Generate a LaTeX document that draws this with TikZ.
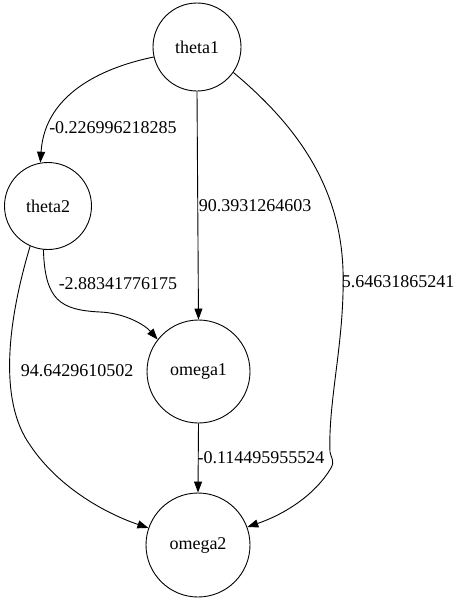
\documentclass[tikz,border=0pt]{standalone}
\usepackage{fontspec}
\setmainfont{Liberation Serif}
\usetikzlibrary{arrows.meta}
\begin{document}
\begin{tikzpicture}[x=1pt,y=-1pt,
  vnode/.style={draw,circle,line width=0.9pt,inner sep=0pt,font=\fontsize{18}{21}\selectfont},
  edge/.style={line width=0.9pt,-{Triangle[length=11pt,width=8pt]}},
  wlabel/.style={font=\fontsize{18}{21}\selectfont,inner sep=0pt}]
\useasboundingbox (0,0) rectangle (461,603);
% variables
\node[vnode,minimum size=88pt]  (theta1) at (197,47)    {theta1};
\node[vnode,minimum size=87pt]  (theta2) at (48,206)    {theta2};
\node[vnode,minimum size=103pt] (omega1) at (198.5,371.5) {omega1};
\node[vnode,minimum size=104pt] (omega2) at (198,545)   {omega2};
% weighted edges
\draw[edge] (theta1.193) .. controls (110,66) and (45,90) .. (theta2.100);
\draw[edge] (theta1.south) -- (omega1.north);
\draw[edge] (theta1.-35) .. controls (290,120) and (340,180) .. (343,270)
  .. controls (345,340) and (328,400) .. (330,452)
  .. controls (331,458) and (335,461) .. (331,468)
  .. controls (315,495) and (285,514) .. (omega2.20);
\draw[edge] (theta2.264) .. controls (45,300) and (60,310) .. (100,312)
  .. controls (125,313) and (145,325) .. (omega1.142);
\draw[edge] (theta2.246) .. controls (8,320) and (-2,400) .. (30,445)
  .. controls (60,490) and (110,515) .. (omega2.161);
\draw[edge] (omega1.south) -- (omega2.north);
% weights
\node[wlabel] (l1) at (113,128) {-0.226996218285};
\node[wlabel] (l2) at (255,206) {90.3931264603};
\node[wlabel] (l3) at (398,282) {5.64631865241};
\node[wlabel] (l4) at (118,284) {-2.88341776175};
\node[wlabel] (l5) at (77,371)  {94.6429610502};
\node[wlabel] (l6) at (261,458) {-0.114495955524};
\end{tikzpicture}
\end{document}
